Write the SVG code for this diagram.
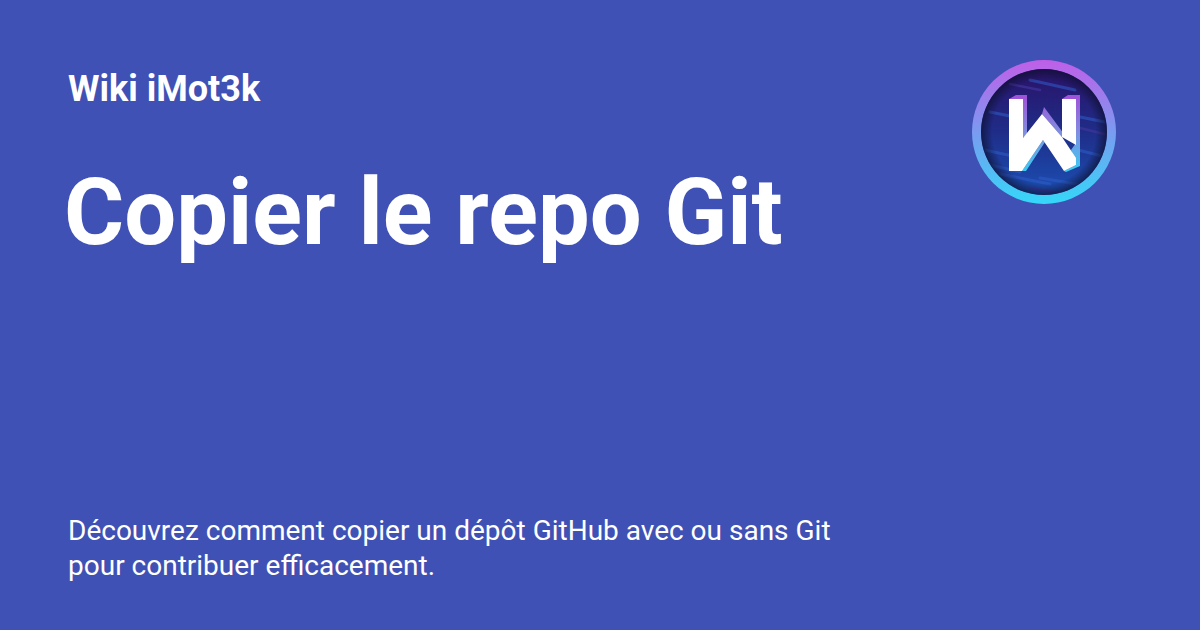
<svg xmlns="http://www.w3.org/2000/svg" width="1200" height="630" viewBox="0 0 1200 630">
<defs>
<linearGradient id="ring" x1="0" y1="0" x2="0" y2="1"><stop offset="0" stop-color="#c05ee8"/><stop offset="1" stop-color="#34d8f8"/></linearGradient>
<linearGradient id="disc" x1="0" y1="0" x2="0" y2="1"><stop offset="0" stop-color="#2a1268"/><stop offset="0.5" stop-color="#1f2d88"/><stop offset="1" stop-color="#1b50b4"/></linearGradient>
<radialGradient id="vig"><stop offset="0.82" stop-color="#0e1030" stop-opacity="0"/><stop offset="1" stop-color="#0e1030" stop-opacity=".7"/></radialGradient>
<linearGradient id="side" gradientUnits="userSpaceOnUse" x1="0" y1="95" x2="0" y2="172"><stop offset="0" stop-color="#a050d8"/><stop offset="0.5" stop-color="#7f8fe0"/><stop offset="1" stop-color="#38cdf2"/></linearGradient>
<clipPath id="clip"><circle cx="1044" cy="132" r="62"/></clipPath>
<style>
text{font-family:Roboto,"Liberation Sans",sans-serif;fill:#fff}
.streak{stroke-linecap:round;fill:none}
</style>
</defs>
<rect width="1200" height="630" fill="#3f51b5"/>
<g id="site"><text x="68" y="101" font-size="36" font-weight="700">Wiki iMot3k</text></g>
<g id="title"><text x="64" y="244" font-size="92" font-weight="700">Copier le repo Git</text></g>
<g id="description"><text x="68" y="540" font-size="28">Découvrez comment copier un dépôt GitHub avec ou sans Git</text><text x="68" y="575" font-size="28">pour contribuer efficacement.</text></g>
<g id="logo">
<circle cx="1044" cy="132" r="72" fill="url(#ring)"/>
<circle cx="1044" cy="132" r="63" fill="url(#disc)"/>
<g clip-path="url(#clip)" class="streak">
<path d="M1030 80L1075 90M990 112L1020 118M1075 116L1105 122M985 150L1030 160M1078 150L1110 158M1000 174L1050 184M1040 178L1100 188M990 165L1020 172" stroke="#2f5cc8" stroke-width="3" opacity=".55"/>
<path d="M1010 84L1040 90M1080 128L1104 134M1030 188L1075 196" stroke="#4636a0" stroke-width="2.5" opacity=".6"/>
</g>
<circle cx="1044" cy="132" r="63" fill="url(#vig)"/>
<path id="w-side" d="M1009 99L1016 95H1027V134L1023 138V99ZM1062 99L1068 95H1080V147H1076V99H1062ZM1042 114L1044 107L1064 134L1062 137ZM1076 143H1080V166L1066 172L1064 171L1076 165L1071 150ZM1043 140L1045 142L1026 171H1022Z" fill="url(#side)"/>
<path id="w-face" d="M1009 99H1023V138L1042 114L1062 137V99H1076V145L1062 137L1076 158V165L1064 171L1043 140L1022 171H1009Z" fill="#fff"/>
</g>
</svg>
